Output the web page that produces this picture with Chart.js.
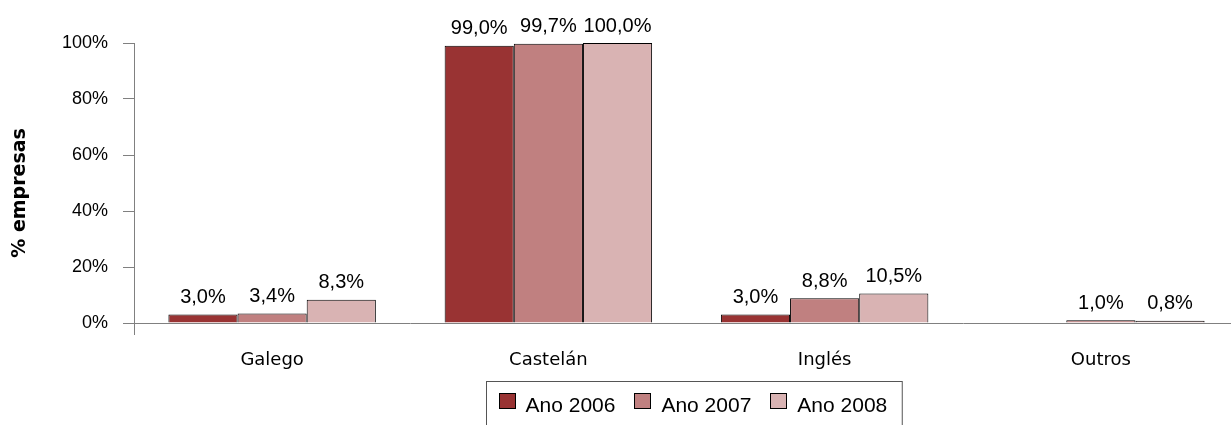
<!DOCTYPE html>
<html>
<head>
<meta charset="utf-8">
<script src="https://cdn.jsdelivr.net/npm/chart.js@4/dist/chart.umd.min.js"></script>
<style>
  html, body { margin: 0; padding: 0; background: #fff; overflow: hidden; }
  #wrap { width: 1231px; height: 425px; overflow: hidden; position: relative; }
  canvas { display: block; }
</style>
</head>
<body>
<div id="wrap"><canvas id="c" width="1245" height="432"></canvas></div>
<script>
const categories = ["Galego", "Castelán", "Inglés", "Outros"];
const seriesLabels = ["Ano 2006", "Ano 2007", "Ano 2008"];
const ano2006 = [3.0, 99.0, 3.0, null];
const ano2007 = [3.4, 99.7, 8.8, 1.0];
const ano2008 = [8.3, 100.0, 10.5, 0.8];
const yTicks = [0, 20, 40, 60, 80, 100];
const colors = ["#993333", "#C08080", "#D9B3B3"];

const valueLabels = {
  id: 'valueLabels',
  afterDatasetsDraw(chart) {
    const ctx = chart.ctx;
    ctx.save();
    ctx.font = '20px "Liberation Sans", Arial, sans-serif';
    ctx.fillStyle = '#000';
    ctx.textAlign = 'center';
    ctx.textBaseline = 'alphabetic';
    chart.data.datasets.forEach((ds, di) => {
      const meta = chart.getDatasetMeta(di);
      meta.data.forEach((el, i) => {
        const v = ds.data[i];
        if (v === null || v === undefined) return;
        const t = v.toFixed(1).replace('.', ',') + '%';
        ctx.fillText(t, el.x, el.y - 11.5);
      });
    });
    ctx.restore();
  }
};

const boxLegend = {
  id: 'boxLegend',
  afterDraw(chart) {
    const ctx = chart.ctx;
    ctx.save();
    ctx.font = '21px "Liberation Sans", Arial, sans-serif';
    const ds = chart.data.datasets;
    const widths = ds.map(d => ctx.measureText(d.label).width);
    const padL = 12, padR = 15, textOff = 27, gap = 19;
    let total = padL + padR + gap * (ds.length - 1);
    widths.forEach(w => total += textOff + w);
    const cx = (chart.chartArea.left + chart.chartArea.right) / 2 + 7;
    const left = Math.round(cx - total / 2) + 0.5;
    const top = 381.5, h = 44;
    ctx.strokeStyle = '#555';
    ctx.lineWidth = 1;
    ctx.strokeRect(left, top, total, h);
    let x = left + padL;
    ds.forEach((d, i) => {
      ctx.fillStyle = d.backgroundColor;
      ctx.fillRect(Math.round(x), 393, 17, 16);
      ctx.strokeStyle = '#000';
      ctx.strokeRect(Math.round(x) + 0.5, 393.5, 16, 15);
      ctx.fillStyle = '#000';
      ctx.textAlign = 'left';
      ctx.textBaseline = 'alphabetic';
      ctx.fillText(d.label, x + textOff, 411.5);
      x += textOff + widths[i] + gap;
    });
    ctx.restore();
  }
};

new Chart(document.getElementById('c'), {
  type: 'bar',
  data: {
    labels: categories,
    datasets: [
      { label: seriesLabels[0], data: ano2006, backgroundColor: colors[0] },
      { label: seriesLabels[1], data: ano2007, backgroundColor: colors[1] },
      { label: seriesLabels[2], data: ano2008, backgroundColor: colors[2] }
    ].map(d => Object.assign(d, { borderColor: '#000', borderWidth: 1, barPercentage: 1, categoryPercentage: 0.751 }))
  },
  options: {
    responsive: false,
    animation: false,
    layout: { padding: { left: 0, top: 43, right: 6, bottom: 49 } },
    plugins: { legend: { display: false }, tooltip: { enabled: false } },
    scales: {
      x: {
        offset: true,
        grid: {
          display: true, drawOnChartArea: false, tickLength: 12,
          color: (c) => c.index === 0 ? '#808080' : 'rgba(0,0,0,0)'
        },
        border: { display: true, color: '#808080', width: 1 },
        ticks: {
          color: '#000', padding: 15,
          font: { family: '"DejaVu Sans", Verdana, sans-serif', size: 18 }
        },
        afterFit(s) { s.height = 60; }
      },
      y: {
        min: 0, max: 100,
        afterBuildTicks(s) { s.ticks = yTicks.map(v => ({ value: v })); },
        grid: { display: true, drawOnChartArea: false, tickLength: 11, color: '#808080' },
        border: { display: true, color: '#808080', width: 1 },
        ticks: {
          color: '#000', padding: 15,
          font: { family: '"Liberation Sans", Arial, sans-serif', size: 18 },
          callback: (v) => v + '%'
        },
        title: {
          display: true, text: '% empresas   ', color: '#000',
          font: { family: '"DejaVu Sans", Verdana, sans-serif', size: 19, weight: 'bold' },
          padding: { top: 9, bottom: 0 }
        },
        afterFit(s) { s.width = 134; }
      }
    }
  },
  plugins: [valueLabels, boxLegend]
});
</script>
</body>
</html>
